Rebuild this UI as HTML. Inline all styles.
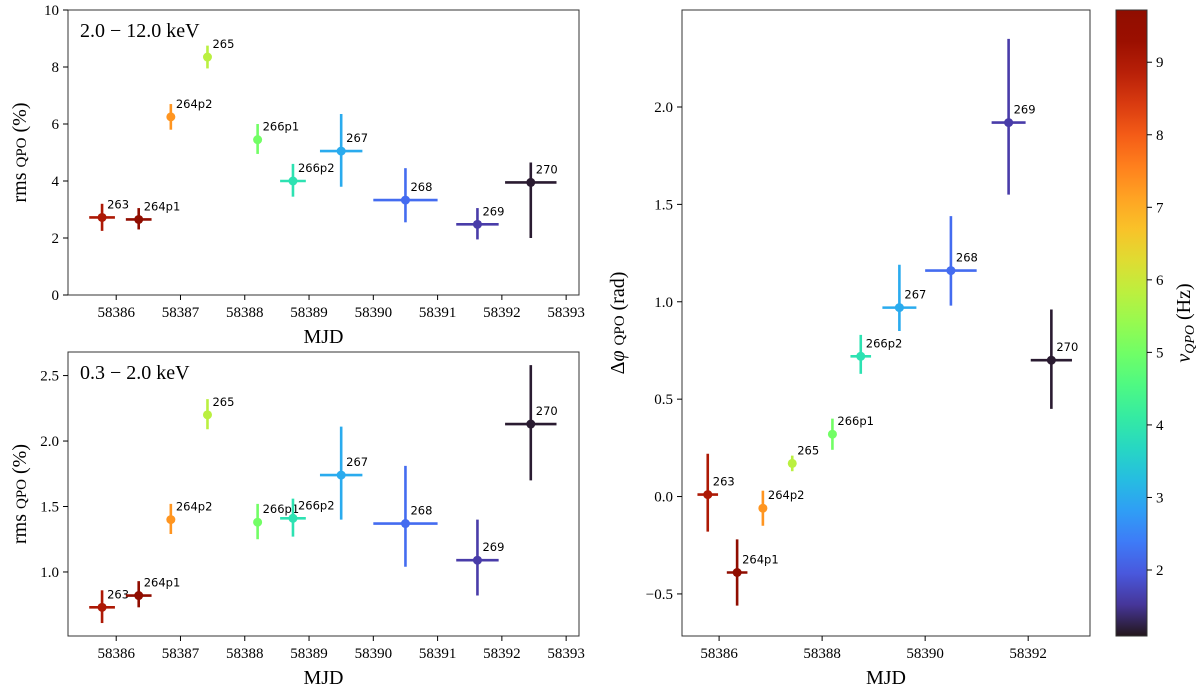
<!DOCTYPE html>
<html><head><meta charset="utf-8">
<style>
body{margin:0;background:#fff;}
svg{display:block;}
text{font-family:"Liberation Serif",serif;fill:#000;}
.ann{font-family:"DejaVu Sans","Liberation Sans",sans-serif;font-size:11.5px;}
.tick{font-size:15px;}
.lab{font-size:20px;}
</style></head>
<body>
<svg id="chart" width="1200" height="695" viewBox="0 0 1200 695">
<defs><linearGradient id="cbg" x1="0" y1="1" x2="0" y2="0"></linearGradient></defs>
</svg>
<script>
const obsIds=["263","264p1","264p2","265","266p1","266p2","267","268","269","270"];
const mjd=[58385.78,58386.35,58386.85,58387.42,58388.2,58388.75,58389.5,58390.5,58391.62,58392.45];
const mjdErr=[0.2,0.2,0,0,0,0.2,0.33,0.5,0.33,0.4];
const nuQpo=[9.0,9.7,7.3,5.8,5.0,3.9,3.0,2.2,1.6,1.15];
const rmsHard=[2.72,2.65,6.25,8.35,5.45,4.0,5.05,3.33,2.48,3.95];
const rmsHardLo=[2.25,2.3,5.8,7.95,4.95,3.45,3.8,2.55,1.95,2.0];
const rmsHardHi=[3.2,3.05,6.7,8.75,6.0,4.6,6.35,4.45,3.05,4.65];
const rmsSoft=[0.73,0.82,1.40,2.20,1.38,1.41,1.74,1.37,1.09,2.13];
const rmsSoftLo=[0.61,0.73,1.29,2.09,1.25,1.27,1.40,1.04,0.82,1.70];
const rmsSoftHi=[0.86,0.93,1.52,2.32,1.52,1.56,2.11,1.81,1.40,2.58];
const dphi=[0.01,-0.39,-0.06,0.17,0.32,0.72,0.97,1.16,1.92,0.70];
const dphiLo=[-0.18,-0.56,-0.15,0.13,0.24,0.63,0.85,0.98,1.55,0.45];
const dphiHi=[0.22,-0.22,0.03,0.21,0.40,0.83,1.19,1.44,2.35,0.96];
const topYTicks=[0,2,4,6,8,10];
const softYTicks=[1.0,1.5,2.0,2.5];
const dphiYTicks=[-0.5,0.0,0.5,1.0,1.5,2.0];
const leftXTicks=[58386,58387,58388,58389,58390,58391,58392,58393];
const rightXTicks=[58386,58388,58390,58392];
const cbTicks=[2,3,4,5,6,7,8,9];

const NS="http://www.w3.org/2000/svg";
const svg=document.getElementById('chart');
function el(tag,attrs,parent){const e=document.createElementNS(NS,tag);for(const k in attrs)e.setAttribute(k,attrs[k]);(parent||svg).appendChild(e);return e;}
function turbo(x){x=Math.max(0,Math.min(1,x));
const r=0.13572138+x*(4.61539260+x*(-42.66032258+x*(132.13108234+x*(-152.94239396+x*59.28637943))));
const g=0.09140261+x*(2.19418839+x*(4.84296658+x*(-14.18503333+x*(4.27729857+x*2.82956604))));
const b=0.10667330+x*(12.64194608+x*(-60.58204836+x*(110.36276771+x*(-89.90310912+x*27.34824973))));
const c=v=>Math.round(255*Math.max(0,Math.min(1,v)));return `rgb(${c(r)},${c(g)},${c(b)})`;}
const cMin=1.09,cMax=9.72;
const col=v=>turbo((v-cMin)/(cMax-cMin));
function fmt(v,d){return v<0?'\u2212'+Math.abs(v).toFixed(d):v.toFixed(d);}

function panel(name,box,xr,yr,xt,yt,yd,ylx,ys,ylo,yhi,ylabel,title){
  const [L,T,R,B]=box;
  const sx=v=>L+(v-xr[0])/(xr[1]-xr[0])*(R-L);
  const sy=v=>B-(v-yr[0])/(yr[1]-yr[0])*(B-T);
  const g=el('g',{});
  
  
  const fr=el('rect',{x:L,y:T,width:R-L,height:B-T,fill:'none',stroke:'#333','stroke-width':1},g);
  
  
  xt.forEach(v=>{const x=sx(v);el('line',{x1:x,x2:x,y1:B,y2:B+5,stroke:'#000'},g);
    const t=el('text',{x:x,y:B+22,'text-anchor':'middle',class:'tick'},g);t.textContent=v;
    
    });
  yt.forEach(v=>{const y=sy(v);el('line',{x1:L-5,x2:L,y1:y,y2:y,stroke:'#000'},g);
    const t=el('text',{x:L-9,y:y+5,'text-anchor':'end',class:'tick'},g);t.textContent=fmt(v,yd);
    
    });
  const xl=el('text',{x:(L+R)/2,y:B+48,'text-anchor':'middle',class:'lab'},g);xl.textContent='MJD';
  
  
  const yx=ylx,yy=(T+B)/2;
  const yl=el('text',{x:yx,y:yy,'text-anchor':'middle',class:'lab',transform:`rotate(-90 ${yx} ${yy})`},g);yl.innerHTML=ylabel;
  
  
  if(title){const tt=el('text',{x:L+12,y:T+27,class:'lab'},g);tt.textContent=title;
    
    }
  for(let i=0;i<obsIds.length;i++){
    const c=col(nuQpo[i]);const px=sx(mjd[i]),py=sy(ys[i]);
    const pg=el('g',{},g);
    
    
    el('line',{x1:px,x2:px,y1:sy(ylo[i]),y2:sy(yhi[i]),stroke:c,'stroke-width':2.6},pg);
    if(mjdErr[i]>0)el('line',{x1:sx(mjd[i]-mjdErr[i]),x2:sx(mjd[i]+mjdErr[i]),y1:py,y2:py,stroke:c,'stroke-width':2.6},pg);
    el('circle',{cx:px,cy:py,r:4.5,fill:c},pg);
    const a=el('text',{x:px+5,y:py-9,class:'ann'},pg);a.textContent=obsIds[i];
  }
}
panel('panel-rms-hard',[68,10,579,295],[58385.25,58393.2],[0,10],leftXTicks,topYTicks,0,26,rmsHard,rmsHardLo,rmsHardHi,'rms <tspan font-size="15">QPO</tspan> (%)','2.0 \u2212 12.0 keV');
panel('panel-rms-soft',[68,352,579,636],[58385.25,58393.2],[0.511,2.68],leftXTicks,softYTicks,1,26,rmsSoft,rmsSoftLo,rmsSoftHi,'rms <tspan font-size="15">QPO</tspan> (%)','0.3 \u2212 2.0 keV');
panel('panel-phase-lag',[682,10,1090,636],[58385.28,58393.2],[-0.716,2.498],rightXTicks,dphiYTicks,1,624,dphi,dphiLo,dphiHi,'\u0394<tspan font-style="italic">\u03c6</tspan> <tspan font-size="15">QPO</tspan> (rad)',null);

// colorbar
const grad=document.getElementById('cbg');
for(let i=0;i<=20;i++){el('stop',{offset:(i/20),'stop-color':turbo(i/20)},grad);}
const CT=10,CB=636,CL=1116,CR=1147;
const cy=v=>CB-(v-cMin)/(cMax-cMin)*(CB-CT);
const cbg=el('g',{});


el('rect',{x:CL,y:CT,width:CR-CL,height:CB-CT,fill:'url(#cbg)',stroke:'#333'},cbg);
cbTicks.forEach(v=>{const y=cy(v);el('line',{x1:CR,x2:CR+5,y1:y,y2:y,stroke:'#000'},cbg);
  const t=el('text',{x:CR+9,y:y+5,class:'tick'},cbg);t.textContent=v;
  
  });
const cl=el('text',{x:1190,y:323,'text-anchor':'middle',class:'lab',transform:'rotate(-90 1190 323)'},cbg);
cl.innerHTML='<tspan font-style="italic">\u03bd<tspan font-size="14" dy="4">QPO</tspan></tspan><tspan dy="-4"> (Hz)</tspan>';


</script>
</body></html>
